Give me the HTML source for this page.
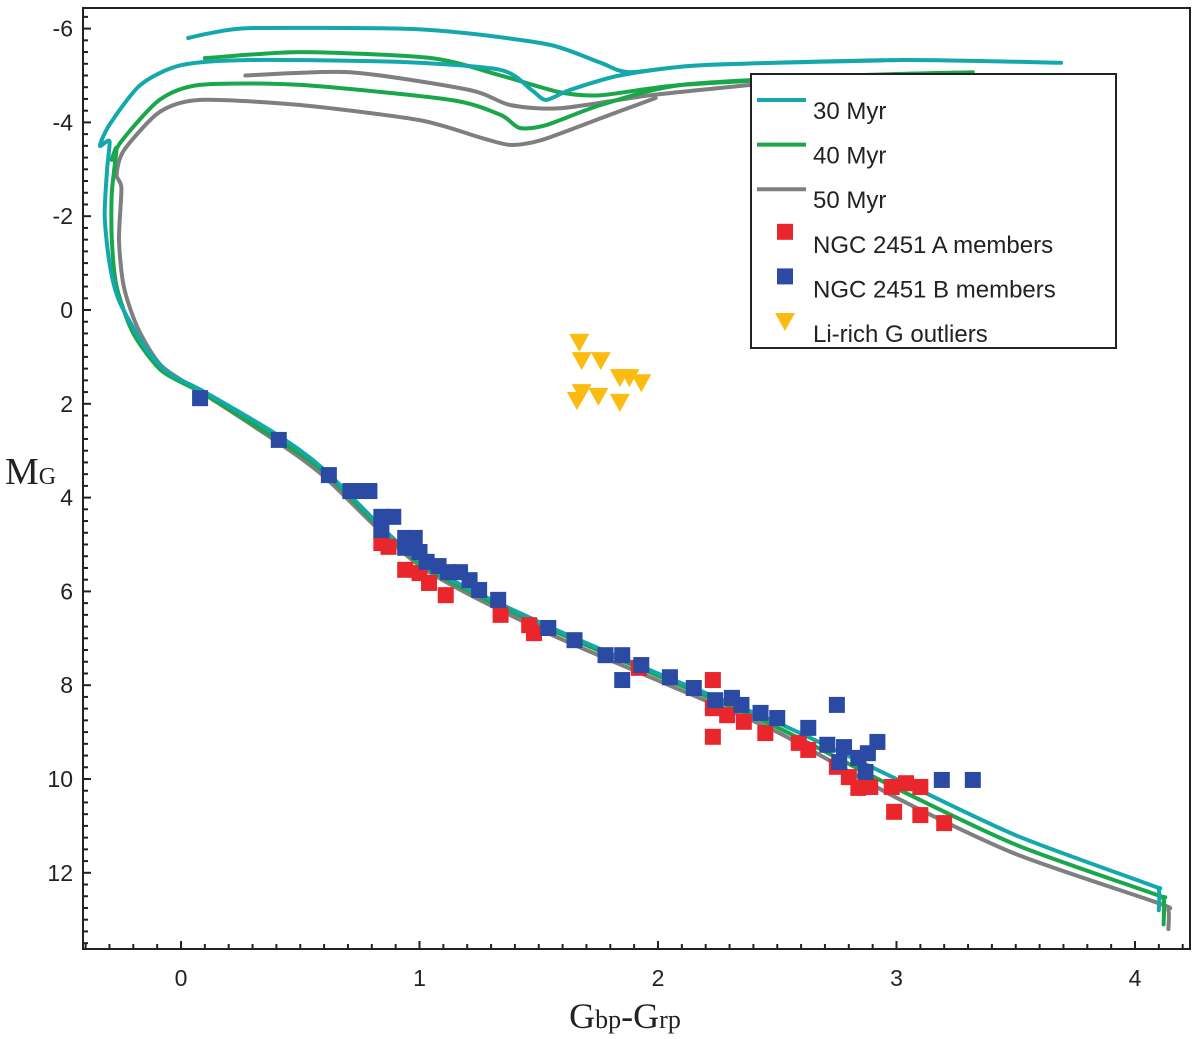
<!DOCTYPE html>
<html><head><meta charset="utf-8"><style>
html,body{margin:0;padding:0;background:#fff;}
svg{display:block;font-family:"Liberation Sans",sans-serif;}
</style></head><body>
<svg id="chart" width="1200" height="1039" viewBox="0 0 1200 1039" xmlns="http://www.w3.org/2000/svg"></svg>
<script>
const xTicks=[0,1,2,3,4];
const yTicks=[-6,-4,-2,0,2,4,6,8,10,12];
const iso30=[[3.69,-5.27],[3.02,-5.33],[2.18,-5.22],[1.88,-5.07],[1.76,-5.27],[1.55,-5.65],[1.2,-5.9],[0.92,-6.0],[0.29,-6.01],[0.12,-5.9],[0.03,-5.8],null,
[3.02,-5.33],[2.18,-5.22],[1.84,-5.0],[1.63,-4.69],[1.53,-4.48],[1.47,-4.69],[1.34,-5.12],[0.92,-5.29],[0.29,-5.33],[0,-5.22],[-0.17,-4.8],[-0.3,-3.95],[-0.34,-3.5],[-0.3,-3.6],[-0.31,-3.0],[-0.32,-2.0],[-0.3,-1.0],[-0.26,-0.2],[-0.15,0.8],[-0.05,1.35],[0.1,1.75],[0.4,2.65],[0.6,3.4],[1.0,5.35],[1.5,6.65],[2.0,7.75],[2.5,8.8],[3.0,10.0],[3.5,11.2],[4.06,12.25],[4.1,12.35],[4.1,12.8]];
const iso40=[[3.32,-5.07],[2.81,-5.0],[2.1,-4.8],[1.76,-4.37],[1.53,-3.94],[1.42,-3.88],[1.34,-4.16],[1.13,-4.48],[0.5,-4.8],[0.08,-4.8],[-0.09,-4.48],[-0.25,-3.6],[-0.29,-3.2],[-0.27,-3.45],[-0.29,-2.5],[-0.29,-1.5],[-0.27,-0.5],[-0.2,0.5],[-0.08,1.3],[0.1,1.8],[0.4,2.75],[0.6,3.45],[1.0,5.4],[1.5,6.7],[2.0,7.8],[2.5,8.9],[3.0,10.2],[3.5,11.4],[4.08,12.45],[4.12,12.55],[4.12,13.1]];
const iso40b=[[2.81,-5.0],[2.1,-4.8],[1.76,-4.58],[1.59,-4.64],[1.34,-5.0],[1.05,-5.37],[0.5,-5.5],[0.1,-5.37]];
const iso50=[[1.99,-4.52],[1.76,-4.09],[1.51,-3.62],[1.38,-3.52],[1.26,-3.67],[1.0,-4.05],[0.5,-4.37],[0.08,-4.48],[-0.09,-4.22],[-0.24,-3.4],[-0.27,-2.88],[-0.25,-2.6],[-0.26,-1.5],[-0.24,-0.5],[-0.18,0.4],[-0.08,1.2],[0.1,1.8],[0.4,2.8],[0.6,3.55],[1.0,5.45],[1.5,6.8],[2.0,7.9],[2.5,9.0],[3.0,10.4],[3.5,11.6],[4.1,12.65],[4.14,12.8],[4.14,13.2],null,
[2.39,-4.8],[1.97,-4.58],[1.59,-4.3],[1.38,-4.37],[1.21,-4.69],[0.71,-5.07],[0.27,-5.0]];
const blueX=[0.08,0.41,0.62,0.71,0.76,0.79,0.84,0.89,0.84,0.94,0.98,0.94,1.0,1.03,1.08,1.12,1.17,1.21,1.25,1.33,1.54,1.65,1.78,1.85,1.85,1.93,2.05,2.15,2.24,2.31,2.35,2.43,2.5,2.63,2.75,2.71,2.78,2.76,2.84,2.88,2.92,2.87,3.19,3.32];
const blueY=[1.88,2.77,3.52,3.86,3.86,3.86,4.41,4.41,4.69,4.86,4.86,5.07,5.16,5.37,5.46,5.59,5.59,5.76,5.97,6.18,6.78,7.04,7.36,7.36,7.89,7.57,7.83,8.06,8.32,8.27,8.42,8.59,8.7,8.91,8.42,9.27,9.32,9.64,9.55,9.45,9.21,9.85,10.02,10.02];
const redX=[0.84,0.87,0.94,1.0,1.04,1.11,1.34,1.46,1.48,1.92,2.23,2.23,2.23,2.29,2.36,2.45,2.59,2.63,2.75,2.8,2.84,2.89,2.98,3.04,3.1,2.99,3.1,3.2];
const redY=[4.97,5.05,5.54,5.61,5.82,6.08,6.5,6.72,6.89,7.63,7.89,9.1,8.49,8.64,8.78,9.02,9.23,9.38,9.74,9.96,10.19,10.17,10.17,10.09,10.17,10.7,10.77,10.94];
const yelX=[1.67,1.68,1.76,1.84,1.88,1.93,1.66,1.68,1.75,1.84];
const yelY=[0.68,1.07,1.07,1.43,1.43,1.54,1.92,1.75,1.83,1.96];

const NS='http://www.w3.org/2000/svg';
const svg=document.getElementById('chart');
const L=83,R=1190,T=8,B=949;
function sx(v){return 181+v*238.5;}
function sy(v){return 310+v*46.9;}
function mk(tag,attrs,parent){const e=document.createElementNS(NS,tag);for(const k in attrs)e.setAttribute(k,attrs[k]);(parent||svg).appendChild(e);return e;}

const frame=mk('rect',{x:L,y:T,width:R-L,height:B-T,fill:'none',stroke:'#222','stroke-width':2});



function smoothPath(seg){
  const P=seg.map(p=>[sx(p[0]),sy(p[1])]);
  let d='M'+P[0][0].toFixed(1)+','+P[0][1].toFixed(1);
  for(let i=0;i<P.length-1;i++){
    const p0=P[Math.max(0,i-1)],p1=P[i],p2=P[i+1],p3=P[Math.min(P.length-1,i+2)];
    const k=8;
    const c1=[p1[0]+(p2[0]-p0[0])/k,p1[1]+(p2[1]-p0[1])/k];
    const c2=[p2[0]-(p3[0]-p1[0])/k,p2[1]-(p3[1]-p1[1])/k];
    d+='C'+c1[0].toFixed(1)+','+c1[1].toFixed(1)+' '+c2[0].toFixed(1)+','+c2[1].toFixed(1)+' '+p2[0].toFixed(1)+','+p2[1].toFixed(1);
  }
  return d;
}
function drawIso(pts,color,name){
  let d='',seg=[];
  pts.concat([null]).forEach(p=>{if(!p){if(seg.length>1)d+=smoothPath(seg);seg=[];return;}seg.push(p);});
  const p=mk('path',{d:d,fill:'none',stroke:color,'stroke-width':4,'stroke-linejoin':'round','stroke-linecap':'round'});
  
  
}
drawIso(iso50,'#7f7f7f','isochrone-50myr');
drawIso(iso40,'#1aa64a','isochrone-40myr');
drawIso(iso40b,'#1aa64a','isochrone-40myr-upper');
drawIso(iso30,'#14a8ac','isochrone-30myr');

function sq(x,y,color,name){
  const r=mk('rect',{x:sx(x)-8,y:sy(y)-8,width:16,height:16,fill:color});
  
  
}
redX.forEach((x,i)=>sq(x,redY[i],'#e8262b','ngc2451a-member'));
blueX.forEach((x,i)=>sq(x,blueY[i],'#2b4aa3','ngc2451b-member'));
yelX.forEach((x,i)=>{
  const cx=sx(x),cy=sy(yelY[i]);
  const t=mk('polygon',{points:`${cx-10},${cy-8} ${cx+10},${cy-8} ${cx},${cy+10}`,fill:'#fbbb10'});
  
  
});

for(let v=-0.4;v<=4.21;v+=0.1){
  const x=sx(v),maj=Math.abs(v-Math.round(v))<0.01;
  const t=mk('line',{x1:x,x2:x,y1:B,y2:B-(maj?8:5),stroke:'#222','stroke-width':2});
  
  
}
for(let v=-6.25;v<=13.6;v+=0.25){
  const y=sy(v),maj=Math.abs(v/2-Math.round(v/2))<0.01;
  const t=mk('line',{x1:L,x2:L+(maj?8:5),y1:y,y2:y,stroke:'#222','stroke-width':2});
  
  
}
xTicks.forEach(v=>{
  const t=mk('text',{x:sx(v),y:986,'text-anchor':'middle','font-size':23,fill:'#222'});
  t.textContent=v;
  
  
});
yTicks.forEach(v=>{
  const t=mk('text',{x:73,y:sy(v)+8,'text-anchor':'end','font-size':23,fill:'#222'});
  t.textContent=v;
  
  
});

const xt=mk('text',{x:625,y:1028,'text-anchor':'middle','font-size':36,fill:'#222','font-family':'Liberation Serif, serif'});
xt.innerHTML='G<tspan font-size="26">bp</tspan>-G<tspan font-size="26">rp</tspan>';


const yt=mk('text',{x:5,y:484,'font-size':38,fill:'#222','font-family':'Liberation Serif, serif'});
yt.innerHTML='M<tspan font-size="24">G</tspan>';



const lg=mk('g',{});


mk('rect',{x:751,y:74,width:365,height:274,fill:'#fff',stroke:'#222','stroke-width':2},lg);
const ent=[['line','#14a8ac','30 Myr'],['line','#1aa64a','40 Myr'],['line','#7f7f7f','50 Myr'],['sq','#e8262b','NGC 2451 A members'],['sq','#2b4aa3','NGC 2451 B members'],['tri','#fbbb10','Li-rich G outliers']];
ent.forEach((e,i)=>{
  const y=110+i*44.6;
  const g=mk('g',{},lg);
  
  
  if(e[0]==='line') mk('line',{x1:757,x2:806,y1:y-10,y2:y-10,stroke:e[1],'stroke-width':4},g);
  else if(e[0]==='sq') mk('rect',{x:777,y:y-20,width:16,height:16,fill:e[1]},g);
  else mk('polygon',{points:`775,${y-20} 795,${y-20} 785,${y-2}`,fill:e[1]},g);
  const t=mk('text',{x:813,y:y+9,'font-size':24,fill:'#222'},g);
  t.textContent=e[2];
});
</script>
</body></html>
